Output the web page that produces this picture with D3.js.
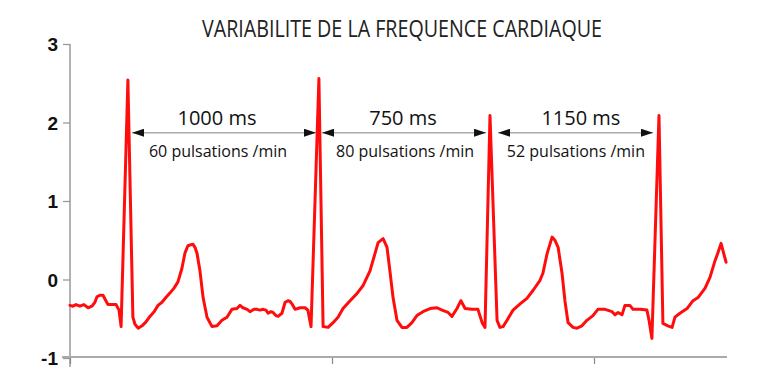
<!DOCTYPE html>
<html>
<head>
<meta charset="utf-8">
<script src="https://cdn.jsdelivr.net/npm/d3@7"></script>
<style>
  html, body { margin: 0; padding: 0; background: #fff; }
  svg { display: block; }
</style>
</head>
<body>
<svg id="chart" width="768" height="384"></svg>
<script>
// ---- data ----
const title = "VARIABILITE DE LA FREQUENCE CARDIAQUE";
const yTicks = [-1, 0, 1, 2, 3];
const xTicks = [0, 1, 2];

const ecgTime = [
  0.000,0.011,0.023,0.038,0.053,0.069,0.084,0.095,0.103,0.115,0.126,0.137,0.145,0.160,0.176,0.187,0.195,
  0.221,0.240,0.248,0.260,0.275,0.290,0.305,0.321,0.336,0.351,0.366,0.382,0.397,0.412,0.427,0.439,0.450,
  0.469,0.477,0.485,0.496,0.508,0.523,0.542,0.561,0.580,0.599,0.618,0.637,0.649,0.660,0.676,0.687,0.702,
  0.714,0.725,0.737,0.748,0.756,0.767,0.775,0.786,0.794,0.809,0.821,0.832,0.840,0.847,0.859,0.878,0.897,
  0.908,0.920,0.950,0.966,0.985,1.004,1.023,1.042,1.069,1.095,1.118,1.145,1.164,1.176,1.195,1.202,1.210,
  1.221,1.233,1.248,1.267,1.286,1.305,1.324,1.347,1.374,1.401,1.420,1.443,1.458,1.477,1.492,1.508,1.534,
  1.557,1.573,1.584,1.603,1.630,1.641,1.653,1.668,1.691,1.718,1.744,1.767,1.794,1.805,1.821,1.840,1.851,
  1.863,1.878,1.889,1.901,1.920,1.935,1.954,1.973,1.996,2.015,2.042,2.069,2.080,2.092,2.107,2.118,2.137,
  2.149,2.176,2.202,2.210,2.221,2.248,2.263,2.282,2.298,2.309,2.328,2.355,2.378,2.397,2.424,2.443,2.462,
  2.473,2.485,2.492,2.504
];
const ecgValue = [
  -0.33,-0.34,-0.32,-0.34,-0.32,-0.36,-0.34,-0.29,-0.22,-0.20,-0.20,-0.27,-0.32,-0.32,-0.32,-0.39,-0.60,
  2.54,-0.48,-0.57,-0.62,-0.59,-0.54,-0.47,-0.41,-0.33,-0.29,-0.23,-0.17,-0.11,-0.03,0.14,0.34,0.43,
  0.45,0.41,0.33,0.11,-0.23,-0.48,-0.60,-0.59,-0.52,-0.48,-0.38,-0.37,-0.33,-0.36,-0.38,-0.41,-0.38,
  -0.38,-0.39,-0.38,-0.39,-0.43,-0.41,-0.42,-0.46,-0.47,-0.43,-0.29,-0.27,-0.28,-0.31,-0.38,-0.36,-0.36,
  -0.39,-0.60,2.56,-0.60,-0.61,-0.55,-0.48,-0.37,-0.27,-0.18,-0.08,0.11,0.33,0.47,0.52,0.47,0.41,
  0.11,-0.23,-0.52,-0.61,-0.61,-0.55,-0.46,-0.41,-0.37,-0.36,-0.39,-0.42,-0.47,-0.37,-0.27,-0.37,-0.38,
  -0.38,-0.55,-0.61,2.09,-0.52,-0.61,-0.60,-0.52,-0.39,-0.31,-0.24,-0.14,-0.01,0.08,0.33,0.54,0.50,
  0.41,0.08,-0.27,-0.55,-0.61,-0.62,-0.59,-0.52,-0.46,-0.38,-0.38,-0.41,-0.45,-0.42,-0.45,-0.33,-0.33,
  -0.38,-0.38,-0.39,-0.52,-0.75,2.09,-0.56,-0.59,-0.61,-0.48,-0.43,-0.37,-0.27,-0.23,-0.11,0.03,0.24,
  0.34,0.46,0.37,0.22
];

// RR interval annotations
const intervalStart = [0.237, 0.962, 1.634];
const intervalEnd   = [0.939, 1.588, 2.225];
const intervalLevel = 1.87;
const msLabels    = ["1000 ms", "750 ms", "1150 ms"];
const msLabelX    = [0.561, 1.271, 1.950];
const pulseLabels = ["60 pulsations /min", "80 pulsations /min", "52 pulsations /min"];
const pulseLabelX = [0.565, 1.279, 1.931];

// ---- chart ----
const svg = d3.select("#chart");
const x = d3.scaleLinear().domain([0, 2.5]).range([70, 725]);
const y = d3.scaleLinear().domain([-1, 3]).range([358, 44]);

svg.append("rect").attr("width", 768).attr("height", 384).attr("fill", "#fff");

// title
svg.append("text")
  .attr("x", 202).attr("y", 37)
  .attr("font-family", "'Open Sans', sans-serif")
  .attr("font-size", 23)
  .attr("fill", "#222")
  .attr("textLength", 400)
  .attr("lengthAdjust", "spacingAndGlyphs")
  .text(title);

// y axis
const yAxis = svg.append("g")
  .attr("transform", `translate(${x(0)},0)`)
  .call(d3.axisLeft(y).tickValues(yTicks).tickSize(7).tickSizeOuter(0).tickFormat(d => String(d)));
yAxis.select(".domain").remove();
yAxis.append("line")
  .attr("x1", 0).attr("x2", 0)
  .attr("y1", y(3)).attr("y2", y(-1) + 9)
  .attr("stroke", "#999").attr("stroke-width", 1.5);
yAxis.selectAll(".tick line").attr("stroke", "#999").attr("stroke-width", 1.3);
yAxis.selectAll(".tick text")
  .attr("x", -12)
  .attr("dy", "0.36em")
  .attr("font-family", "'Liberation Sans', Arial, sans-serif")
  .attr("font-weight", "bold")
  .attr("font-size", 19)
  .attr("fill", "#111");

// x axis
const xAxis = svg.append("g")
  .attr("transform", `translate(0,${y(-1) - 1})`)
  .call(d3.axisBottom(x).tickValues(xTicks).tickSize(7).tickSizeOuter(0).tickFormat(""));
xAxis.select(".domain").remove();
xAxis.append("line")
  .attr("x1", x(0) - 8).attr("x2", x(2.5) + 2)
  .attr("y1", 0).attr("y2", 0)
  .attr("stroke", "#aaa").attr("stroke-width", 2);
xAxis.selectAll(".tick line").attr("stroke", "#888").attr("stroke-width", 1.2);

// ECG trace
const pts = ecgTime.map((t, i) => [t, ecgValue[i]]);
svg.append("path")
  .datum(pts)
  .attr("fill", "none")
  .attr("stroke", "#ff0d0d")
  .attr("stroke-width", 3)
  .attr("stroke-linejoin", "round")
  .attr("stroke-linecap", "round")
  .attr("d", d3.line().x(d => x(d[0])).y(d => y(d[1])));

// arrow markers
const defs = svg.append("defs");
defs.append("marker")
  .attr("id", "arrowEnd")
  .attr("viewBox", "0 0 12 8")
  .attr("refX", 12).attr("refY", 4)
  .attr("markerWidth", 12).attr("markerHeight", 8)
  .attr("markerUnits", "userSpaceOnUse")
  .attr("orient", "auto")
  .append("path").attr("d", "M0,0 L12,4 L0,8 Z").attr("fill", "#111");
defs.append("marker")
  .attr("id", "arrowStart")
  .attr("viewBox", "0 0 12 8")
  .attr("refX", 0).attr("refY", 4)
  .attr("markerWidth", 12).attr("markerHeight", 8)
  .attr("markerUnits", "userSpaceOnUse")
  .attr("orient", "auto")
  .append("path").attr("d", "M12,0 L0,4 L12,8 Z").attr("fill", "#111");

const ann = svg.append("g");
intervalStart.forEach((s, i) => {
  const ay = y(intervalLevel);
  ann.append("line")
    .attr("x1", x(s)).attr("x2", x(intervalEnd[i]))
    .attr("y1", ay).attr("y2", ay)
    .attr("stroke", "#aaa").attr("stroke-width", 1.5)
    .attr("marker-start", "url(#arrowStart)")
    .attr("marker-end", "url(#arrowEnd)");
  ann.append("text")
    .attr("x", x(msLabelX[i])).attr("y", ay - 8)
    .attr("text-anchor", "middle")
    .attr("font-family", "'Open Sans', sans-serif")
    .attr("font-size", 20)
    .attr("fill", "#111")
    .text(msLabels[i]);
  ann.append("text")
    .attr("x", x(pulseLabelX[i])).attr("y", ay + 24)
    .attr("text-anchor", "middle")
    .attr("font-family", "'Open Sans', sans-serif")
    .attr("font-size", 16)
    .attr("fill", "#111")
    .text(pulseLabels[i]);
});
</script>
</body>
</html>
